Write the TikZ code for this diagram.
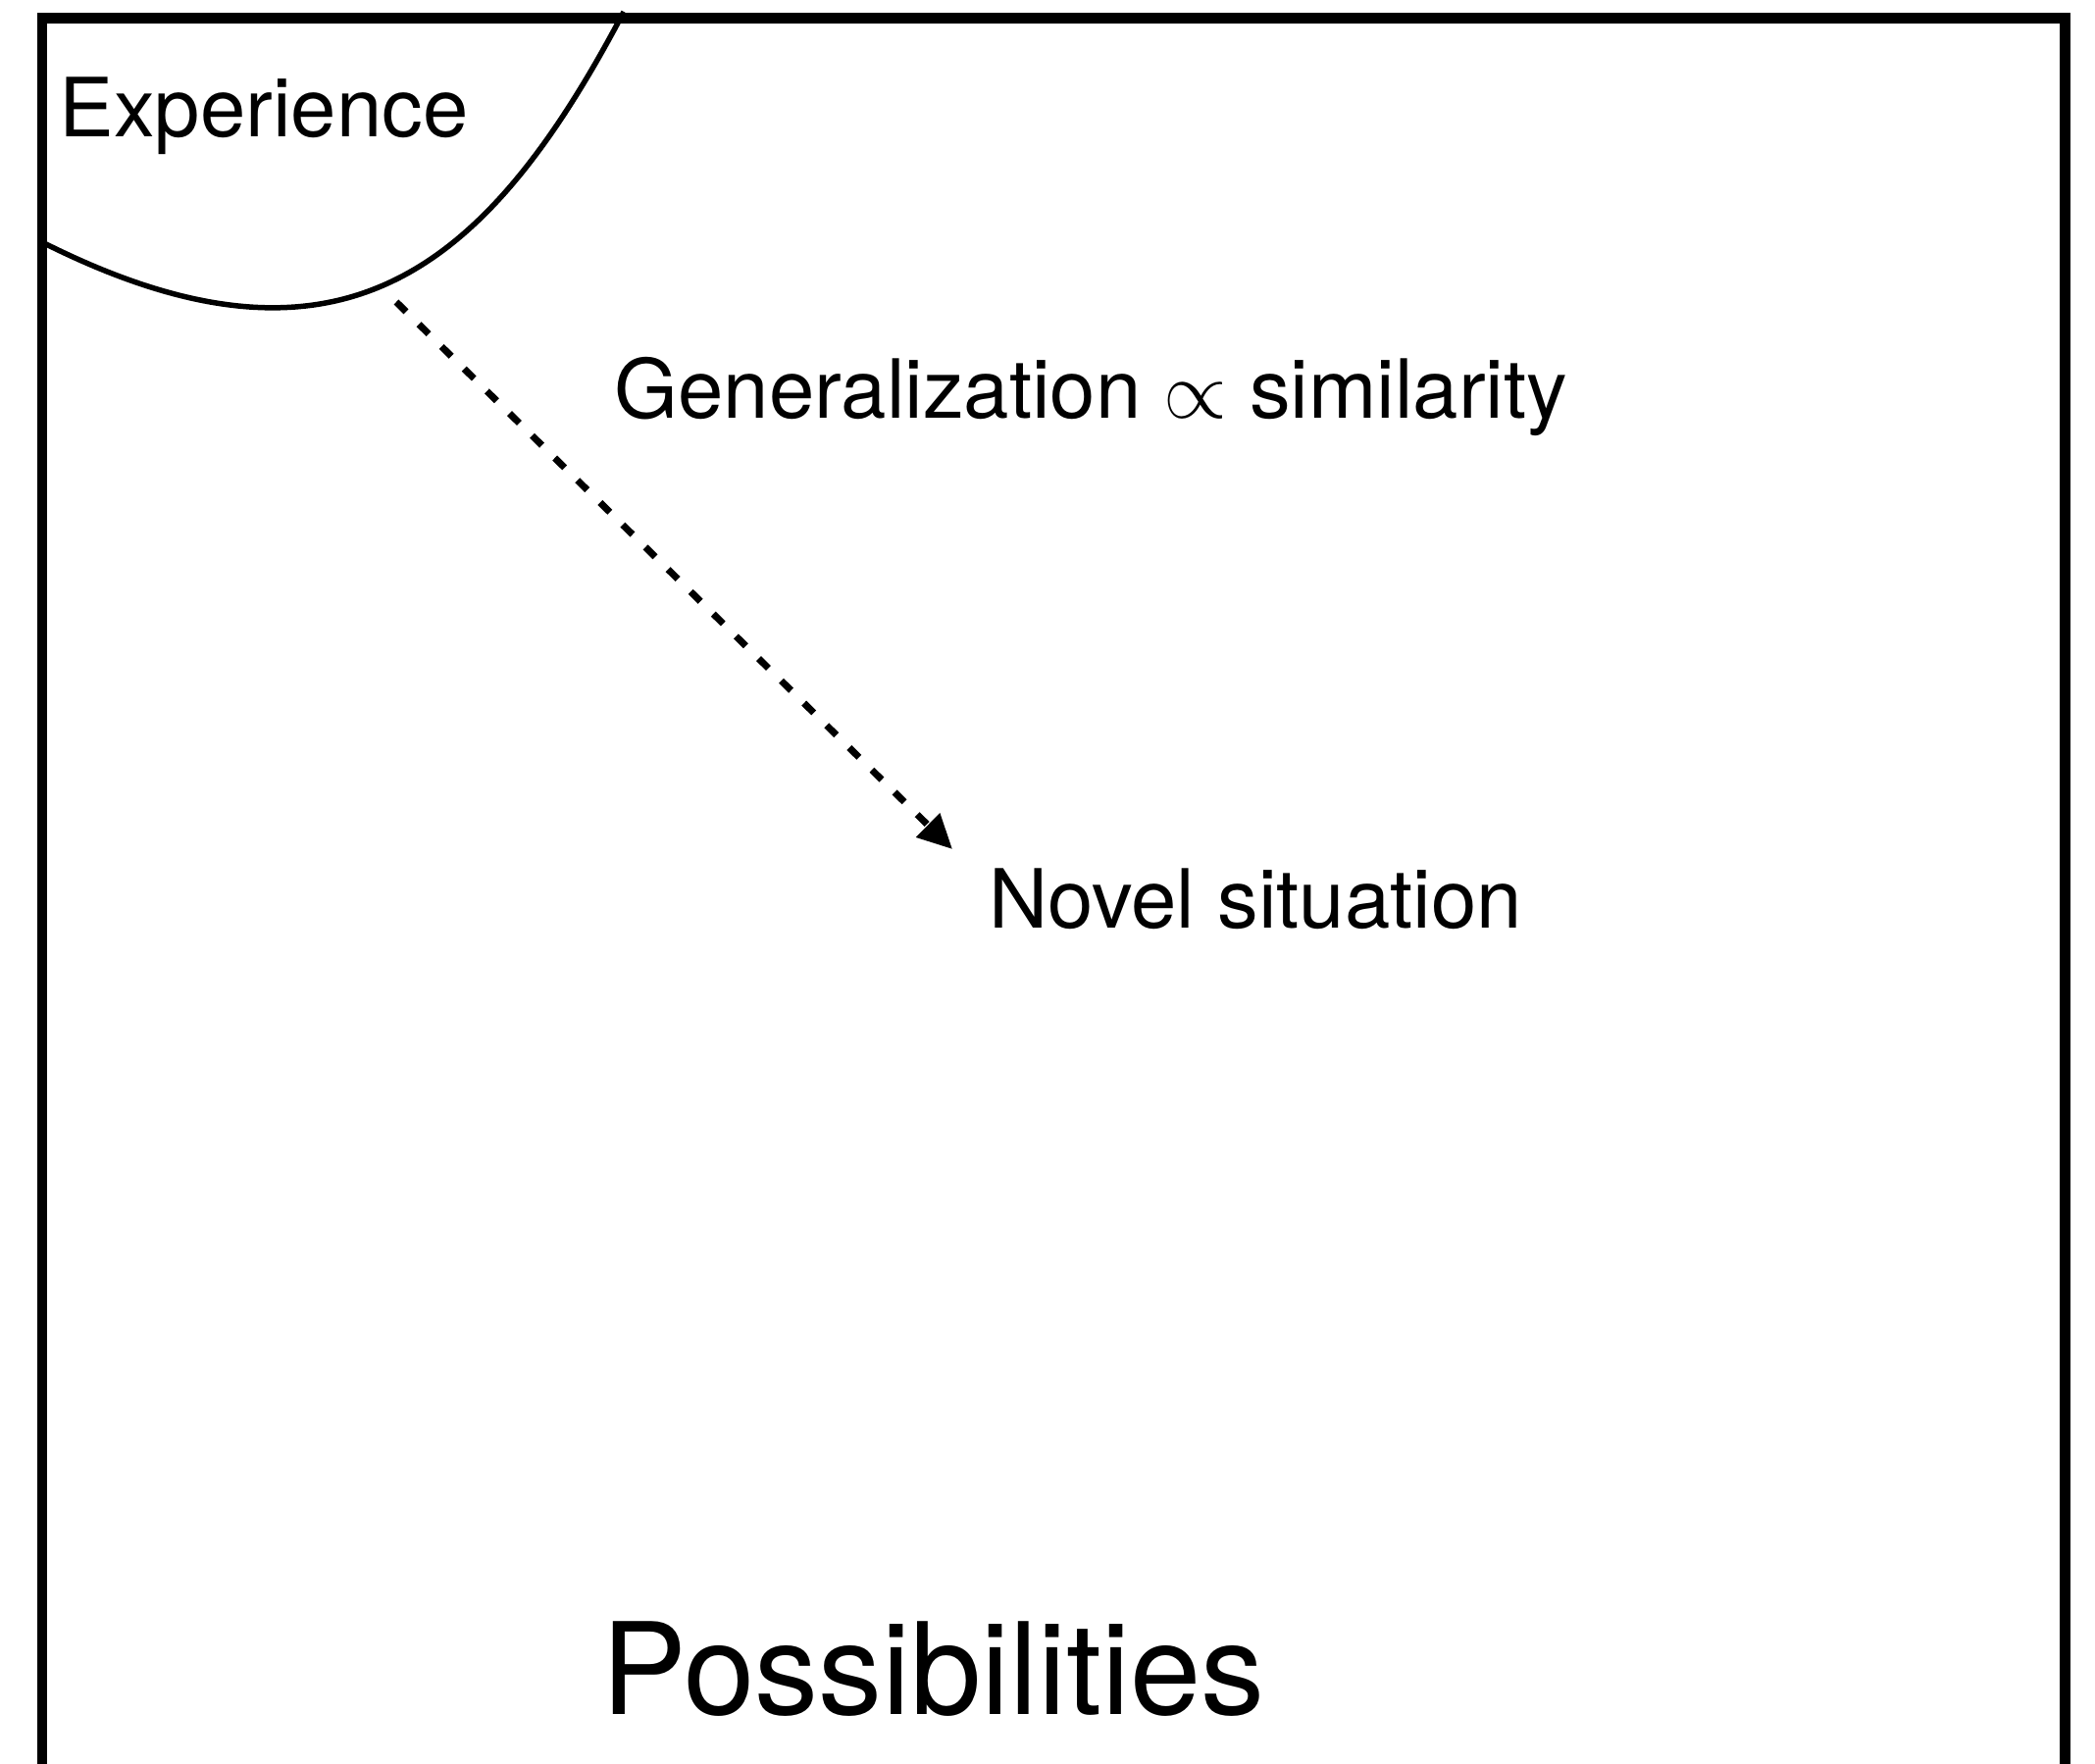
\documentclass[tikz,border=0pt]{standalone}
\usepackage{fontspec}
\setmainfont{TeX Gyre Heros}
\usetikzlibrary{arrows.meta}

\tikzset{
  frame/.style={line width=0.107cm, line join=miter},
  region/.style={line width=0.055cm},
  generalize/.style={line width=0.07cm, dash pattern=on 0.14cm off 0.184cm,
    -{Triangle[length=0.35cm, width=0.33cm]}},
  label/.style={inner sep=0pt, anchor=base west,
    font=\fontsize{23.7}{28}\selectfont},
  biglabel/.style={inner sep=0pt, anchor=base west,
    font=\fontsize{37}{44}\selectfont}
}

\begin{document}
\begin{tikzpicture}
  \useasboundingbox (0,0) rectangle (21.36,-17.99);
  \clip (0,0) rectangle (21.36,-17.99);

  % boundary of the experienced region in the corner
  \draw[region] (0.43,-2.47) .. controls (3.43,-3.98) and (4.94,-2.82) .. (6.36,-0.12);

  % space of possibilities: open at the bottom
  \draw[frame] (0.43,-18.6) -- (0.43,-0.185) -- (21.055,-0.185) -- (21.055,-18.6);

  % labels
  \node[label] (exp) at (0.60,-1.40) {Experience};
  \node[label] (gen) at (6.26,-4.27) {Generalization \scalebox{0.95}{$\propto$} similarity};
  \node[label] (novel) at (10.08,-9.46) {Novel situation};
  \node[biglabel] (poss) at (6.13,-17.48) {Possibilities};

  % generalization from experience towards the novel situation
  \coordinate (from) at (4.04,-3.08);
  \coordinate (to) at (9.71,-8.66);
  \draw[generalize] (from) -- (to);
\end{tikzpicture}
\end{document}
